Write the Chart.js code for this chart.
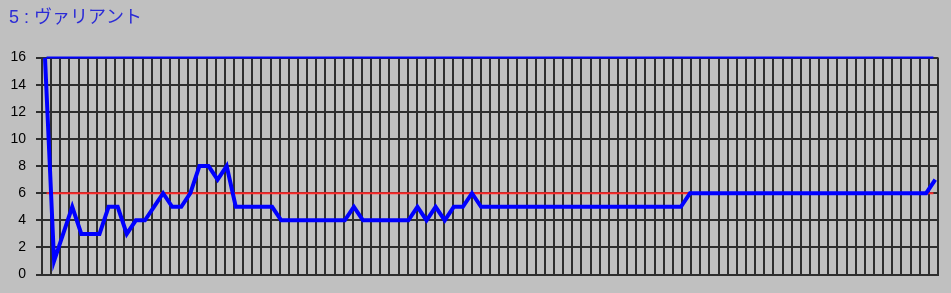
<!DOCTYPE html>
<html>
<head>
<meta charset="utf-8">
<script src="https://cdn.jsdelivr.net/npm/chart.js@4/dist/chart.umd.min.js"></script>
<style>
  body { margin: 0; background: #c0c0c0; }
  #wrap { width: 951px; height: 293px; }
</style>
</head>
<body>
<div id="wrap"><canvas id="chart" width="951" height="293"></canvas></div>
<script>
// 99 samples, one per measurement
const values = [
  16, 1, 3, 5, 3, 3, 3, 5, 5, 3,
  4, 4, 5, 6, 5, 5, 6, 8, 8, 7,
  8, 5, 5, 5, 5, 5, 4, 4, 4, 4,
  4, 4, 4, 4, 5, 4, 4, 4, 4, 4,
  4, 5, 4, 5, 4, 5, 5, 6, 5, 5,
  5, 5, 5, 5, 5, 5, 5, 5, 5, 5,
  5, 5, 5, 5, 5, 5, 5, 5, 5, 5,
  5, 6, 6, 6, 6, 6, 6, 6, 6, 6,
  6, 6, 6, 6, 6, 6, 6, 6, 6, 6,
  6, 6, 6, 6, 6, 6, 6, 6, 7
];
const upperLimit = 16;
const lowerLimit = 6;
const yTicks = [0, 2, 4, 6, 8, 10, 12, 14, 16];
const gridCells = 98;
const title = '5 : ヴァリアント';

const gridColor = '#2e2e2e';
const xMin = -0.33;
const xMax = values.length - 1 + 0.3;
const cell = (xMax - xMin) / gridCells;

const samples = values.map((v, i) => ({ x: i, y: v }));
// reference lines run from the centre of the first grid cell to the centre of the last one
const limitLine = (v) => [{ x: xMin + cell / 2, y: v }, { x: xMax - cell / 2, y: v }];

new Chart(document.getElementById('chart'), {
  type: 'line',
  data: {
    datasets: [
      {
        data: samples,
        borderColor: '#0000ff',
        borderWidth: 4,
        pointRadius: 0,
        tension: 0,
        order: 0
      },
      {
        data: limitLine(lowerLimit),
        borderColor: '#ff2a2a',
        borderWidth: 2,
        pointRadius: 0,
        order: 1
      },
      {
        data: limitLine(upperLimit),
        borderColor: '#0000ff',
        borderWidth: 2,
        pointRadius: 0,
        clip: false,
        order: 1
      }
    ]
  },
  options: {
    responsive: false,
    animation: false,
    layout: { padding: { left: 9, right: 13, top: 0, bottom: 16 } },
    plugins: {
      legend: { display: false },
      tooltip: { enabled: false },
      title: {
        display: true,
        text: title,
        align: 'start',
        color: '#2b2bd6',
        font: { family: "'Liberation Sans', 'Noto Sans CJK JP', sans-serif", size: 18, weight: 'normal' },
        padding: { top: 7, bottom: 29 }
      }
    },
    scales: {
      x: {
        type: 'linear',
        min: xMin,
        max: xMax,
        afterBuildTicks: (axis) => {
          axis.ticks = [];
          for (let k = 0; k <= gridCells; k++) axis.ticks.push({ value: xMin + k * cell });
        },
        ticks: { display: false },
        grid: { color: gridColor, lineWidth: 2, drawTicks: false },
        border: { color: gridColor, width: 2 }
      },
      y: {
        min: 0,
        max: 16,
        afterBuildTicks: (axis) => { axis.ticks = yTicks.map(v => ({ value: v })); },
        afterFit: (axis) => { axis.width = 33; },
        ticks: {
          color: '#000',
          padding: 10,
          font: { family: "'Liberation Sans', Arial, sans-serif", size: 14 }
        },
        grid: { color: gridColor, lineWidth: 2, tickLength: 6 },
        border: { color: gridColor, width: 2 }
      }
    }
  }
});
</script>
</body>
</html>
